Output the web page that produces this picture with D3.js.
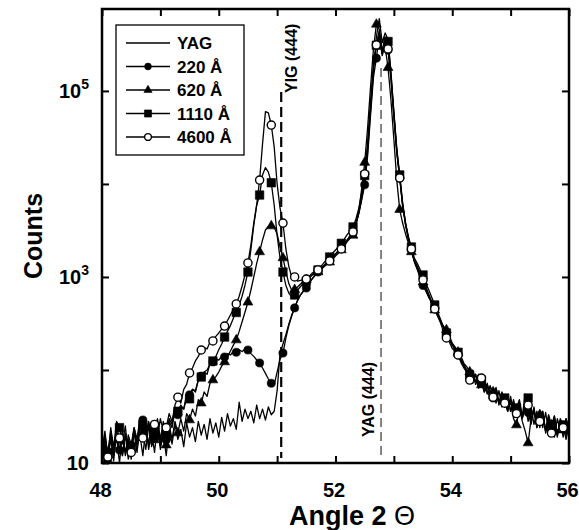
<!DOCTYPE html>
<html>
<head>
<meta charset="utf-8">
<script src="https://cdn.jsdelivr.net/npm/d3@7"></script>
<style>
  body { margin: 0; background: #fff; }
  svg { display: block; }
  text { font-family: "Liberation Sans", Arial, sans-serif; font-weight: bold; fill: #000; }
</style>
</head>
<body>
<div id="chart"></div>
<script>
// sampling grid: 48.00 .. 56.00 every 0.05 deg
const angles = d3.range(161).map(i => +(48 + i * 0.05).toFixed(2));

// counts, one row = 0.5 deg
const countsYAG = [
  13, 20, 11, 24, 14, 19, 10, 22, 13, 18,
  11, 23, 15, 20, 12, 24, 14, 22, 13, 25,
  15, 21, 12, 24, 16, 26, 18, 23, 15, 27,
  19, 24, 17, 28, 20, 26, 18, 30, 21, 27,
  19, 31, 22, 34, 25, 30, 23, 45, 28, 38,
  30, 36, 27, 42, 30, 38, 29, 40, 33, 36,
  60, 150, 190, 240, 310, 390, 470, 560, 640, 710,
  770, 860, 950, 1040, 1120, 1210, 1310, 1410, 1510, 1640,
  1770, 1890, 2020, 2250, 2480, 2700, 2950, 3700, 4900, 7000,
  10500, 22000, 60000, 160000, 380000, 600000, 330000, 420000, 360000, 160000,
  60000, 23000, 12000, 6000, 3700, 2600, 2000, 1500, 1250, 1020,
  850, 720, 610, 530, 460, 395, 335, 285, 245, 215,
  185, 165, 148, 125, 115, 95, 88, 100, 72, 90,
  68, 80, 56, 68, 48, 60, 44, 56, 40, 52,
  36, 48, 34, 44, 31, 42, 28, 40, 26, 36,
  24, 34, 22, 31, 20, 30, 21, 28, 19, 27,
  22
];
const counts220 = [
  9, 16, 10.2, 19, 12, 21, 13.8, 22, 12, 20,
  15.6, 24, 16, 30, 29, 20, 28, 15, 18.5, 27,
  16, 25, 17.7, 28, 24, 36, 33, 40, 38, 50,
  54, 62, 60, 78, 86, 95, 100, 115, 122, 130,
  128, 140, 138, 150, 145, 158, 155, 165, 158, 168,
  164, 150, 140, 128, 119, 105, 92, 80, 72, 70,
  95, 130, 152, 220, 300, 380, 465, 560, 640, 700,
  760, 870, 960, 1050, 1130, 1220, 1320, 1420, 1520, 1650,
  1780, 1900, 2040, 2250, 2500, 2700, 2970, 3700, 4800, 6800,
  9800, 20000, 55000, 140000, 225000, 400000, 240000, 310000, 275000, 135000,
  52000, 22000, 11500, 5800, 3600, 2500, 1950, 1450, 1200, 980,
  810, 700, 600, 530, 465, 400, 340, 285, 240, 215,
  185, 165, 145, 128, 110, 98, 86, 98, 70, 84,
  72, 58, 66, 50, 50, 62, 42, 55, 45, 36,
  48, 32, 39, 45, 30, 40, 35, 26, 38, 24,
  30, 36, 21, 32, 22.6, 30, 19, 30, 25.6, 18,
  26
];
const counts620 = [
  11, 20, 12.2, 18, 10.5, 22, 17.7, 12, 20, 11,
  14.5, 21, 13, 24, 21.5, 14, 25, 16, 17.7, 26,
  14, 22, 15.6, 26, 18, 28, 21, 30, 22, 34,
  29, 38, 32, 48, 44, 58, 52, 72, 78, 85,
  95, 110, 122, 140, 160, 185, 210, 260, 330, 420,
  535, 720, 1000, 1400, 1860, 2500, 3200, 3500, 3530, 3400,
  2900, 2100, 1600, 1150, 850, 720, 730, 780, 840, 890,
  930, 990, 1050, 1090, 1130, 1200, 1280, 1360, 1440, 1550,
  1680, 1800, 1950, 2150, 2400, 2600, 2800, 3600, 5200, 9000,
  17000, 40000, 110000, 280000, 520000, 460000, 260000, 300000, 178000, 80000,
  30000, 11000, 5300, 3800, 2900, 2300, 1860, 1500, 1250, 1050,
  880, 740, 620, 520, 440, 380, 330, 295, 270, 230,
  195, 175, 155, 140, 118, 108, 95, 80, 90, 64,
  69, 80, 55, 66, 58, 44, 60, 40, 48, 36,
  46, 30, 25.6, 40, 28, 22, 16.4, 30, 38, 26,
  33, 24, 35, 22, 25.6, 32, 20, 28, 22.6, 30,
  18
];
const counts1110 = [
  10, 18, 13, 22, 15, 28, 24, 16, 25, 12,
  14.5, 24, 18, 30, 25.6, 18, 27, 20, 21.5, 30,
  18, 28, 19.5, 30, 26, 40, 36, 42, 38, 55,
  49, 62, 58, 78, 84, 95, 90, 118, 125, 140,
  165, 190, 226, 260, 300, 360, 415, 500, 620, 820,
  1130, 1950, 3600, 5900, 7600, 12500, 15000, 13400, 10300, 5900,
  2800, 1600, 1130, 810, 670, 610, 640, 720, 790, 850,
  900, 980, 1050, 1120, 1190, 1300, 1420, 1530, 1640, 1800,
  1950, 2100, 2300, 2550, 2850, 3100, 3450, 4200, 5500, 8000,
  12300, 27000, 75000, 190000, 310000, 450000, 270000, 380000, 340000, 150000,
  58000, 24000, 12500, 6300, 3800, 2700, 2100, 1600, 1400, 1200,
  1050, 850, 720, 600, 500, 420, 350, 290, 250, 220,
  190, 175, 155, 130, 112, 100, 88, 72, 90, 68,
  78, 58, 72, 50, 54, 65, 44, 58, 50, 38,
  52, 34, 39, 48, 32, 55, 50, 28, 40, 24,
  29, 36, 22, 33, 25.6, 19, 30, 22, 25.6, 20,
  28
];
const counts4600 = [
  14, 22, 11.6, 20, 13, 24, 18.6, 12, 21, 15,
  13, 22, 17, 26, 18.6, 24, 16, 28, 26, 19,
  30, 22, 24, 34, 28, 42, 51, 44, 62, 70,
  93, 105, 125, 140, 164, 175, 168, 200, 205, 230,
  250, 275, 297, 340, 390, 450, 513, 620, 800, 1050,
  1415, 2200, 3800, 6000, 11000, 27000, 60000, 58000, 43000, 25000,
  10000, 5500, 3800, 2000, 1300, 1000, 1000, 900, 920, 930,
  950, 1020, 1100, 1150, 1190, 1250, 1330, 1420, 1486, 1600,
  1750, 1900, 2000, 2200, 2500, 2750, 3050, 3800, 5000, 7500,
  12800, 25000, 70000, 180000, 312000, 420000, 250000, 330000, 283000, 140000,
  55000, 22000, 11600, 6000, 3800, 2600, 2000, 1500, 1300, 1100,
  930, 780, 650, 540, 453, 380, 320, 260, 221, 200,
  170, 160, 145, 120, 105, 95, 78, 92, 75, 88,
  82, 62, 70, 55, 51, 60, 45, 52, 44, 50,
  36, 45, 34, 40, 30, 44, 42, 30, 36, 25,
  28, 34, 22, 30, 21, 32, 20, 28, 24, 30,
  22
];

const seriesNames = ['YAG', '220 Å', '620 Å', '1110 Å', '4600 Å'];
const seriesCounts = [countsYAG, counts220, counts620, counts1110, counts4600];
const seriesMarkers = ['none', 'dot', 'triangle', 'square', 'ring'];

const xTickValues = [48, 49, 50, 51, 52, 53, 54, 55, 56];
const yTickValues = [10, 100, 1000, 10000, 100000];
const yTickLabels = [['10', ''], null, ['10', '3'], null, ['10', '5']];

const refLineAngles = [51.07, 52.78];
const refLineNames = ['YIG (444)', 'YAG (444)'];

// ---------------------------------------------------------------
const W = 579, H = 530;
const X0 = 102, X1 = 569, Y0 = 9, Y1 = 463;

const svg = d3.select('#chart').append('svg')
  .attr('width', W).attr('height', H)
  .attr('viewBox', [0, 0, W, H]);

const x = d3.scaleLinear().domain([48, 56]).range([X0, X1]);
const y = d3.scaleLog().domain([10, 7.6e5]).range([Y1, Y0]);

svg.append('defs').append('clipPath').attr('id', 'plotclip')
  .append('rect').attr('x', X0).attr('y', Y0).attr('width', X1 - X0).attr('height', Y1 - Y0);

// axes (ticks pointing inward)
function styleAxis(g) {
  g.select('.domain').remove();
  g.selectAll('.tick line').attr('stroke', '#000').attr('stroke-width', 2);
  g.selectAll('.tick text').style('font-size', '20px').style('font-weight', 'bold')
    .attr('font-family', null);
}

svg.append('g').attr('transform', `translate(0,${Y1})`)
  .call(d3.axisBottom(x).tickValues(xTickValues).tickSizeInner(-7).tickSizeOuter(0)
    .tickPadding(20).tickFormat(d => d % 2 === 0 ? d : ''))
  .call(styleAxis)
  .call(g => g.selectAll('.tick text').attr('dx', -2));

svg.append('g').attr('transform', `translate(0,${Y0})`)
  .call(d3.axisTop(x).tickValues(xTickValues).tickSizeInner(-7).tickSizeOuter(0).tickFormat(''))
  .call(styleAxis);

svg.append('g').attr('transform', `translate(${X0},0)`)
  .call(d3.axisLeft(y).tickValues(yTickValues).tickSizeInner(-7).tickSizeOuter(0).tickFormat(''))
  .call(styleAxis);

svg.append('g').attr('transform', `translate(${X1},0)`)
  .call(d3.axisRight(y).tickValues(yTickValues).tickSizeInner(-7).tickSizeOuter(0).tickFormat(''))
  .call(styleAxis);

// y tick labels with superscripts
yTickValues.forEach((v, i) => {
  const lab = yTickLabels[i];
  if (!lab) return;
  const t = svg.append('text')
    .attr('x', 89).attr('y', y(v) + 7)
    .attr('text-anchor', 'end')
    .style('font-size', '20px');
  t.append('tspan').text(lab[0]);
  if (lab[1]) t.append('tspan').attr('dy', -9).style('font-size', '14px').text(lab[1]);
});

// reference lines
const refStyles = [
  { y1: 92, y2: 458, w: 2.2, c: '#000', dash: '10,5' },
  { y1: 68, y2: 455, w: 1.2, c: '#333', dash: '9,5' }
];
refLineAngles.forEach((a, i) => {
  const s = refStyles[i];
  svg.append('line')
    .attr('x1', x(a)).attr('x2', x(a)).attr('y1', s.y1).attr('y2', s.y2)
    .attr('stroke', s.c).attr('stroke-width', s.w).attr('stroke-dasharray', s.dash);
});
svg.append('text')
  .attr('transform', `translate(${x(refLineAngles[0]) + 16},93) rotate(-90)`)
  .style('font-size', '16px').text(refLineNames[0]);
svg.append('text')
  .attr('transform', `translate(${x(refLineAngles[1]) - 7},437) rotate(-90)`)
  .style('font-size', '16px').text(refLineNames[1]);

// data
const plot = svg.append('g').attr('clip-path', 'url(#plotclip)');
const line = d3.line().x((d, i) => x(angles[i])).y(d => y(d));

function markerPath(type, scale) {
  if (type === 'dot' || type === 'ring') return d3.symbol(d3.symbolCircle, 52 * scale)();
  if (type === 'square') return d3.symbol(d3.symbolSquare, 72 * scale)();
  if (type === 'triangle') return d3.symbol(d3.symbolTriangle, 42 * scale)();
  return null;
}
function styleMarker(sel, type) {
  sel.attr('fill', type === 'ring' ? '#fff' : '#000')
    .attr('stroke', '#000')
    .attr('stroke-width', type === 'ring' ? 1.4 : 0.6);
}

seriesCounts.forEach((vals, si) => {
  const g = plot.append('g');
  g.append('path').datum(vals)
    .attr('d', line)
    .attr('fill', 'none').attr('stroke', '#000')
    .attr('stroke-width', 1.3).attr('stroke-linejoin', 'round');

  const type = seriesMarkers[si];
  if (type === 'none') return;
  const idx = d3.range(2, vals.length, 4);
  g.selectAll('path.m').data(idx).join('path')
    .attr('class', 'm')
    .attr('d', markerPath(type, 1))
    .attr('transform', i => `translate(${x(angles[i])},${y(vals[i])})`)
    .call(styleMarker, type);
});

// frame
svg.append('rect')
  .attr('x', X0).attr('y', Y0).attr('width', X1 - X0).attr('height', Y1 - Y0)
  .attr('fill', 'none').attr('stroke', '#000').attr('stroke-width', 2.5);

// legend
const lg = svg.append('g');
lg.append('rect').attr('x', 116).attr('y', 25).attr('width', 128).attr('height', 130)
  .attr('fill', '#fff').attr('stroke', '#000').attr('stroke-width', 1.3);
seriesNames.forEach((name, i) => {
  const ly = 43 + i * 23.5;
  lg.append('line').attr('x1', 126).attr('x2', 170).attr('y1', ly).attr('y2', ly)
    .attr('stroke', '#000').attr('stroke-width', 1.5);
  const type = seriesMarkers[i];
  if (type !== 'none') {
    lg.append('path').attr('d', markerPath(type, 0.7))
      .attr('transform', `translate(148,${ly})`).call(styleMarker, type);
  }
  lg.append('text').attr('x', 177).attr('y', ly + 6).style('font-size', '17px').text(name);
});

// axis titles
svg.append('text')
  .attr('transform', `translate(42,${(Y0 + Y1) / 2}) rotate(-90)`)
  .attr('text-anchor', 'middle').style('font-size', '25px').text('Counts');

const xt = svg.append('text').attr('x', 352).attr('y', 525)
  .attr('text-anchor', 'middle').style('font-size', '27px');
xt.append('tspan').text('Angle 2 ');
xt.append('tspan').style('font-weight', 'normal').text('Θ');
</script>
</body>
</html>
